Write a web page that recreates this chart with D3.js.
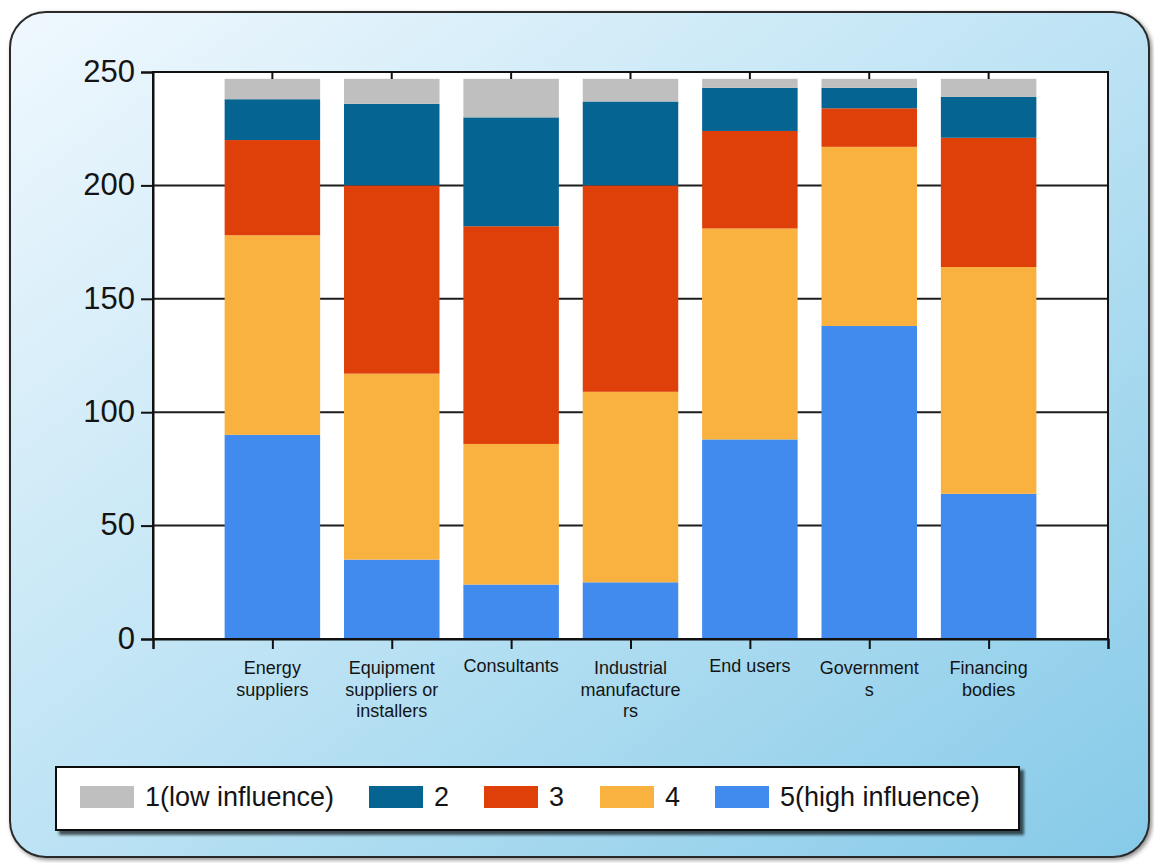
<!DOCTYPE html>
<html>
<head>
<meta charset="utf-8">
<script src="https://cdn.jsdelivr.net/npm/d3@7"></script>
<style>
  html, body { margin: 0; padding: 0; background: #ffffff; }
  svg { display: block; }
</style>
</head>
<body>
<svg id="chart" width="1154" height="863"></svg>
<script>
// Stakeholder groups (x axis) and the wrapped form of each label as drawn
const categories = ["Energy suppliers", "Equipment suppliers or installers", "Consultants",
  "Industrial manufacturers", "End users", "Governments", "Financing bodies"];
const categoryLabelLines = [
  ["Energy", "suppliers"],
  ["Equipment", "suppliers or", "installers"],
  ["Consultants"],
  ["Industrial", "manufacture", "rs"],
  ["End users"],
  ["Government", "s"],
  ["Financing", "bodies"]
];

// Number of responses per influence rating, one value per category
const influence1 = [9, 11, 17, 10, 4, 4, 8];
const influence2 = [18, 36, 48, 37, 19, 9, 18];
const influence3 = [42, 83, 96, 91, 43, 17, 57];
const influence4 = [88, 82, 62, 84, 93, 79, 100];
const influence5 = [90, 35, 24, 25, 88, 138, 64];

const seriesNames = ["1(low influence)", "2", "3", "4", "5(high influence)"];
const seriesColors = ["#BFBFBF", "#066493", "#DF400A", "#F9B140", "#418BEE"];
const yTicks = [0, 50, 100, 150, 200, 250];

const rows = categories.map((c, i) => ({
  category: c,
  "1(low influence)": influence1[i],
  "2": influence2[i],
  "3": influence3[i],
  "4": influence4[i],
  "5(high influence)": influence5[i]
}));

const svg = d3.select("#chart");
const font = "'Liberation Sans', Arial, sans-serif";

// ---- panel background ----
const defs = svg.append("defs");
const grad = defs.append("linearGradient").attr("id", "panelGrad")
  .attr("x1", 0).attr("y1", 0).attr("x2", 1).attr("y2", 1);
grad.append("stop").attr("offset", 0).attr("stop-color", "#F0F8FE");
grad.append("stop").attr("offset", 0.5).attr("stop-color", "#BDE3F4");
grad.append("stop").attr("offset", 1).attr("stop-color", "#86CAE8");

const shadow = defs.append("filter").attr("id", "panelShadow")
  .attr("x", "-5%").attr("y", "-5%").attr("width", "110%").attr("height", "110%");
shadow.append("feDropShadow").attr("dx", 2).attr("dy", 2).attr("stdDeviation", 2)
  .attr("flood-color", "#000").attr("flood-opacity", 0.45);

const legendShadow = defs.append("filter").attr("id", "legendShadow")
  .attr("x", "-5%").attr("y", "-20%").attr("width", "110%").attr("height", "150%");
legendShadow.append("feDropShadow").attr("dx", 4).attr("dy", 4).attr("stdDeviation", 1.5)
  .attr("flood-color", "#000").attr("flood-opacity", 0.65);

svg.append("rect")
  .attr("x", 10).attr("y", 12).attr("width", 1139).attr("height", 845)
  .attr("rx", 36).attr("ry", 36)
  .attr("fill", "url(#panelGrad)")
  .attr("stroke", "#2b2b2b").attr("stroke-width", 2)
  .attr("filter", "url(#panelShadow)");

// ---- plot area and scales ----
const plot = { left: 153, right: 1108, top: 72, bottom: 639 };

// categories sit at positions 1..7 of an axis running 0..8
const x = d3.scaleLinear().domain([0, categories.length + 1]).range([plot.left, plot.right]);
const step = x(1) - x(0);
const barWidth = step * 0.8;
const y = d3.scaleLinear().domain([0, 250]).range([plot.bottom, plot.top]);

svg.append("rect")
  .attr("x", plot.left).attr("y", plot.top)
  .attr("width", plot.right - plot.left).attr("height", plot.bottom - plot.top)
  .attr("fill", "#ffffff");

// horizontal gridlines
svg.append("g").selectAll("line").data(yTicks).join("line")
  .attr("x1", plot.left).attr("x2", plot.right)
  .attr("y1", d => y(d)).attr("y2", d => y(d))
  .attr("stroke", "#1c1c1c").attr("stroke-width", 2);

// ---- stacked bars (rating 5 at the bottom) ----
const stackKeys = seriesNames.slice().reverse();
const stacked = d3.stack().keys(stackKeys)(rows);
const colorOf = d3.scaleOrdinal().domain(seriesNames).range(seriesColors);

svg.append("g").selectAll("g").data(stacked).join("g")
  .attr("fill", d => colorOf(d.key))
  .selectAll("rect").data(d => d).join("rect")
  .attr("x", (d, i) => x(i + 1) - barWidth / 2)
  .attr("width", barWidth)
  .attr("y", d => y(d[1]))
  .attr("height", d => y(d[0]) - y(d[1]));

// ---- frame and axes ----
svg.append("rect")
  .attr("x", plot.left).attr("y", plot.top)
  .attr("width", plot.right - plot.left).attr("height", plot.bottom - plot.top)
  .attr("fill", "none").attr("stroke", "#111").attr("stroke-width", 2);

// short inward ticks along the top edge
svg.append("g").selectAll("line").data(d3.range(1, categories.length + 1)).join("line")
  .attr("x1", d => x(d)).attr("x2", d => x(d))
  .attr("y1", plot.top).attr("y2", plot.top + 7)
  .attr("stroke", "#111").attr("stroke-width", 2);

const yAxis = svg.append("g")
  .attr("transform", `translate(${plot.left},0)`)
  .call(d3.axisLeft(y).tickValues(yTicks).tickSize(12).tickPadding(6));
yAxis.select(".domain").attr("stroke", "#111").attr("stroke-width", 2);
yAxis.selectAll(".tick line").attr("stroke", "#111").attr("stroke-width", 2);
yAxis.selectAll(".tick text")
  .attr("font-family", font).attr("font-size", 31).attr("fill", "#141414")
  .attr("dy", "0.3em");

const xAxis = svg.append("g")
  .attr("transform", `translate(0,${plot.bottom})`)
  .call(d3.axisBottom(x).tickValues(d3.range(0, categories.length + 2)).tickSize(10).tickFormat(""));
xAxis.select(".domain").attr("stroke", "#111").attr("stroke-width", 2);
xAxis.selectAll(".tick line").attr("stroke", "#111").attr("stroke-width", 2);

// wrapped category labels
const labels = svg.append("g")
  .attr("font-family", font).attr("font-size", 18).attr("fill", "#141414")
  .attr("text-anchor", "middle");
categoryLabelLines.forEach((lines, i) => {
  const t = labels.append("text")
    .attr("x", x(i + 1))
    .attr("y", lines.length === 1 ? 672 : 674);
  lines.forEach((line, j) => {
    t.append("tspan").attr("x", x(i + 1)).attr("dy", j === 0 ? 0 : 21.5).text(line);
  });
});

// ---- legend ----
const legend = svg.append("g");
legend.append("rect")
  .attr("x", 56).attr("y", 767).attr("width", 963).attr("height", 63)
  .attr("fill", "#ffffff").attr("stroke", "#111").attr("stroke-width", 2)
  .attr("filter", "url(#legendShadow)");

const legendX = [80, 369, 484, 600, 715];
const items = legend.selectAll("g.item").data(seriesNames).join("g")
  .attr("class", "item")
  .attr("transform", (d, i) => `translate(${legendX[i]},786)`);
items.append("rect")
  .attr("width", 54).attr("height", 22)
  .attr("fill", d => colorOf(d));
items.append("text")
  .attr("x", 65).attr("y", 20)
  .attr("font-family", font).attr("font-size", 27).attr("fill", "#141414")
  .text(d => d);
</script>
</body>
</html>
